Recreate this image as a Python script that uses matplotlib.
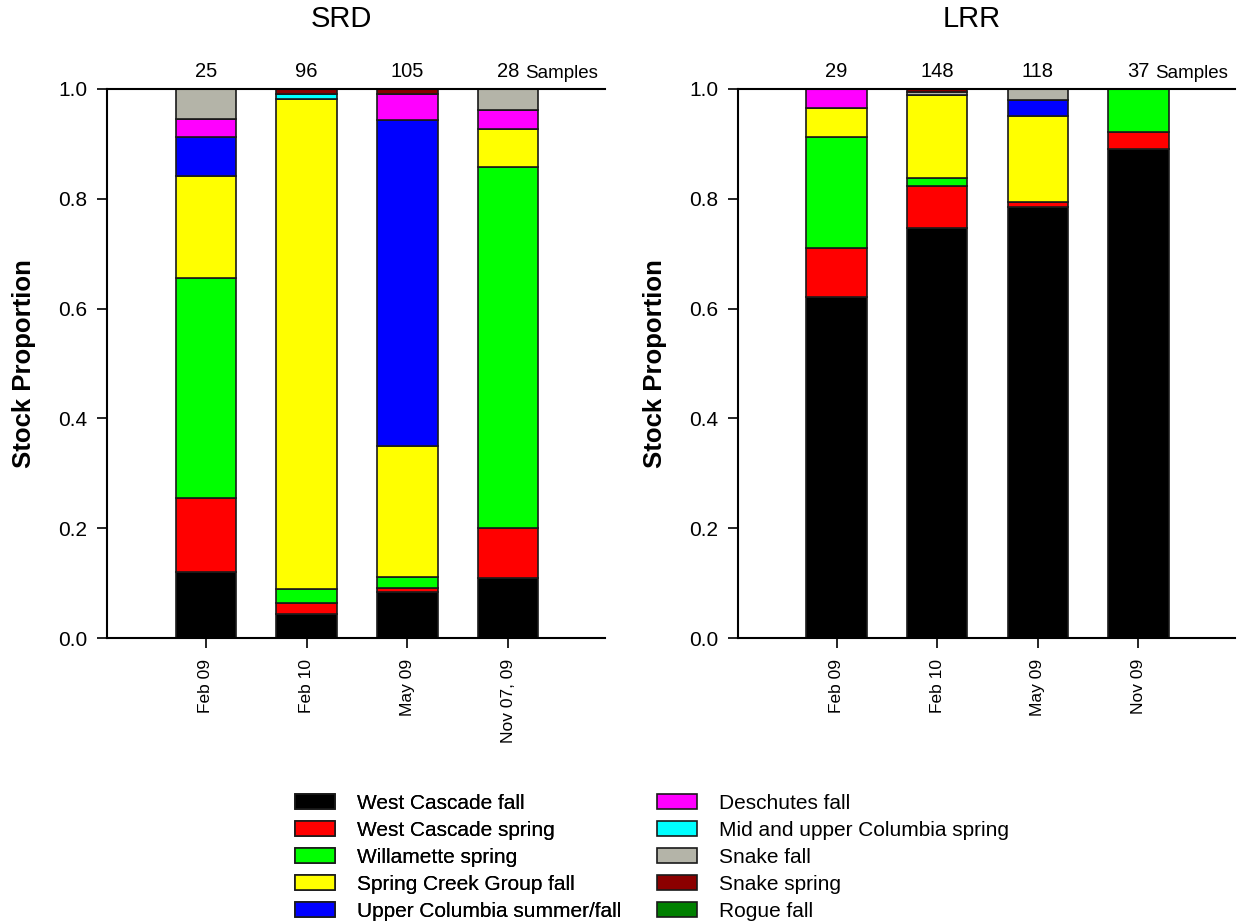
import matplotlib
matplotlib.use("Agg")
import matplotlib.pyplot as plt
import numpy as np

plt.rcParams['font.family'] = ['Liberation Sans', 'DejaVu Sans']

stocks = ["West Cascade fall", "West Cascade spring", "Willamette spring",
          "Spring Creek Group fall", "Upper Columbia summer/fall", "Deschutes fall",
          "Mid and upper Columbia spring", "Snake fall", "Snake spring", "Rogue fall"]
colors = ["#000000", "#ff0000", "#00ff00", "#ffff00", "#0000ff", "#ff00ff",
          "#00ffff", "#b4b4a8", "#8b0000", "#008000"]

srd_labels = ["Feb 09", "Feb 10", "May 09", "Nov 07, 09"]
srd_samples = [25, 96, 105, 28]
srd_values = {
    "West Cascade fall":             [0.120, 0.044, 0.084, 0.109],
    "West Cascade spring":           [0.135, 0.020, 0.007, 0.091],
    "Willamette spring":             [0.401, 0.025, 0.020, 0.658],
    "Spring Creek Group fall":       [0.186, 0.893, 0.239, 0.069],
    "Upper Columbia summer/fall":    [0.071, 0.000, 0.594, 0.000],
    "Deschutes fall":                [0.032, 0.000, 0.047, 0.035],
    "Mid and upper Columbia spring": [0.000, 0.008, 0.000, 0.000],
    "Snake fall":                    [0.055, 0.000, 0.000, 0.038],
    "Snake spring":                  [0.000, 0.010, 0.009, 0.000],
    "Rogue fall":                    [0.000, 0.000, 0.000, 0.000],
}

lrr_labels = ["Feb 09", "Feb 10", "May 09", "Nov 09"]
lrr_samples = [29, 148, 118, 37]
lrr_values = {
    "West Cascade fall":             [0.621, 0.747, 0.785, 0.891],
    "West Cascade spring":           [0.089, 0.076, 0.009, 0.031],
    "Willamette spring":             [0.203, 0.015, 0.000, 0.078],
    "Spring Creek Group fall":       [0.052, 0.151, 0.157, 0.000],
    "Upper Columbia summer/fall":    [0.000, 0.000, 0.029, 0.000],
    "Deschutes fall":                [0.035, 0.000, 0.000, 0.000],
    "Mid and upper Columbia spring": [0.000, 0.000, 0.000, 0.000],
    "Snake fall":                    [0.000, 0.006, 0.020, 0.000],
    "Snake spring":                  [0.000, 0.005, 0.000, 0.000],
    "Rogue fall":                    [0.000, 0.000, 0.000, 0.000],
}

fig = plt.figure(figsize=(12.5, 9.24), dpi=100)
W, H = 1250, 924
ax1 = fig.add_axes([107 / W, 1 - 638 / H, 498 / W, 549 / H])
ax2 = fig.add_axes([738 / W, 1 - 638 / H, 497 / W, 549 / H])

def draw(ax, title, labels, samples, values):
    x = np.arange(1, len(labels) + 1)
    bottom = np.zeros(len(labels))
    handles = []
    for s, c in zip(stocks, colors):
        v = np.array(values[s])
        h = ax.bar(x, v, width=0.6, bottom=bottom, color=c, edgecolor="#1a1a1a",
                   linewidth=1.2, label=s)
        handles.append(h)
        bottom += v
    ax.set_xlim(0.02, 4.96)
    ax.set_ylim(0, 1.0)
    yt = np.arange(0, 1.01, 0.2)
    ax.set_yticks(yt)
    ax.set_yticklabels([f"{t:.1f}" for t in yt], fontsize=15)
    ax.set_xticks(x)
    ax.set_xticklabels(labels, rotation=90, fontsize=12.5, va="top")
    ax.tick_params(axis="y", direction="out", length=7, width=1.2, pad=7)
    ax.tick_params(axis="x", direction="out", length=7, width=1.2, pad=8)
    ax.spines["right"].set_visible(False)
    for sp in ["left", "bottom", "top"]:
        ax.spines[sp].set_linewidth(1.5)
    ax.set_ylabel("Stock Proportion", fontsize=18.5, fontweight="bold")
    ax.yaxis.set_label_coords(-71 / 498, 0.5)
    ax.text(0.47, 1 + 70 / 549, title, transform=ax.transAxes,
            ha="center", va="center", fontsize=21)
    for xi, n in zip(x, samples):
        ax.text(xi, 1 + 17 / 549, str(n), ha="center", va="center", fontsize=14.5)
    ax.text(x[-1] + 0.17, 1 + 15 / 549, "Samples", ha="left", va="center", fontsize=13.5)
    return handles

handles = draw(ax1, "SRD", srd_labels, srd_samples, srd_values)
draw(ax2, "LRR", lrr_labels, lrr_samples, lrr_values)

fs = 15
fpx = fs * 100 / 72
common = dict(loc="upper left", frameon=False, fontsize=fs,
              handlelength=40 / fpx, handleheight=15 / fpx, handletextpad=22 / fpx,
              labelspacing=0.38, borderaxespad=0, borderpad=0)
leg1 = fig.legend(handles[:5], stocks[:5], bbox_to_anchor=(295 / W, 1 - 794 / H), **common)
fig.add_artist(leg1)
leg2 = fig.legend(handles[5:], stocks[5:], bbox_to_anchor=(657 / W, 1 - 794 / H), **common)

fig.savefig("out.png", dpi=100)
